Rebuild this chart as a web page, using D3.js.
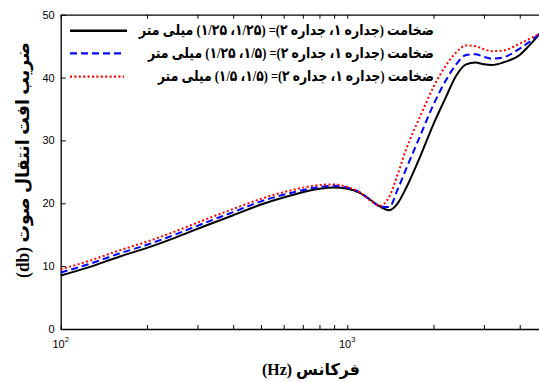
<!DOCTYPE html>
<html>
<head>
<meta charset="utf-8">
<script src="https://cdn.jsdelivr.net/npm/d3@7"></script>
<style>
  body { margin: 0; background: #fff; }
  svg { display: block; }
  .tick text { font-family: "Liberation Sans", Arial, sans-serif; font-size: 11px; }
  .fa { font-family: "Liberation Serif", "DejaVu Sans", serif; font-weight: bold; }
</style>
</head>
<body>
<svg width="539" height="382"></svg>
<script>
const freqs = [100, 125, 160, 200, 250, 315, 400, 500, 630, 800, 900, 1000, 1100, 1200, 1300,
  1400, 1500, 1600, 1800, 2000, 2200, 2400, 2600, 2800, 3000, 3200, 3500, 4000, 4300, 4700];

// wall thickness 1/25 , 1/25 mm (black solid)
const tl_25_25 = [8.5, 9.8, 11.5, 12.9, 14.5, 16.3, 18.1, 19.8, 21.2, 22.3, 22.5, 22.3, 21.7, 20.6, 19.5,
  18.9, 20.0, 22.3, 27.5, 32.6, 36.7, 40.3, 42.1, 42.4, 42.1, 42.0, 42.4, 43.6, 45.0, 47.0];
// 1/5 , 1/25 mm (blue dashed)
const tl_5_25 = [9.0, 10.3, 12.0, 13.4, 15.0, 16.8, 18.6, 20.3, 21.6, 22.6, 22.8, 22.5, 21.8, 20.6, 19.5,
  19.4, 22.2, 25.3, 30.8, 35.7, 39.4, 42.1, 43.6, 43.7, 43.3, 43.0, 43.2, 44.6, 45.6, 47.0];
// 1/5 , 1/5 mm (red dotted)
const tl_5_5 = [9.5, 10.8, 12.5, 13.9, 15.5, 17.3, 19.1, 20.7, 22.0, 22.9, 23.0, 22.6, 21.8, 20.5, 19.6,
  21.0, 24.6, 28.4, 33.9, 38.5, 41.8, 44.0, 45.1, 45.0, 44.5, 44.2, 44.3, 45.4, 46.1, 47.0];

const yTicks = [0, 10, 20, 30, 40, 50];
const xTicks = [100, 200, 300, 400, 500, 600, 700, 800, 900, 1000, 2000, 3000, 4000];
const xLabels = [{ v: 100, exp: "2" }, { v: 1000, exp: "3" }];

const legendLabels = [
  "ضخامت (جداره ۱، جداره ۲)= (۱/۲۵، ۱/۲۵) میلی متر",
  "ضخامت (جداره ۱، جداره ۲)= (۱/۵، ۱/۲۵) میلی متر",
  "ضخامت (جداره ۱، جداره ۲)= (۱/۵، ۱/۵) میلی متر"
];
const yLabel = "ضریب افت انتقال صوت (db)";
const xLabel = "فرکانس (Hz)";

const svg = d3.select("svg");
const plotLeft = 60.7, plotRight = 539.8, plotTop = 14.7, plotBottom = 329;

const x = d3.scaleLog().domain([100, 4700]).range([plotLeft, plotRight]);
const y = d3.scaleLinear().domain([0, 50]).range([plotBottom, plotTop]);

const series = [
  { values: tl_25_25, color: "#000", width: 2, dash: null },
  { values: tl_5_25, color: "#0000ff", width: 2, dash: "7,4" },
  { values: tl_5_5, color: "#ff0000", width: 2, dash: "2,2.4" }
];

// axes (ticks point inward)
svg.append("g")
  .attr("transform", `translate(0,${plotBottom})`)
  .call(d3.axisBottom(x).tickValues(xTicks).tickFormat("").tickSize(-4).tickSizeOuter(0));
svg.append("g")
  .attr("transform", `translate(0,${plotTop})`)
  .call(d3.axisTop(x).tickValues(xTicks).tickFormat("").tickSize(-4).tickSizeOuter(0));
svg.append("g")
  .attr("transform", `translate(${plotLeft},0)`)
  .call(d3.axisLeft(y).tickValues(yTicks).tickSize(-5).tickSizeOuter(0).tickPadding(6));
svg.selectAll(".domain").attr("stroke-width", 1.3);

// 10^n labels
xLabels.forEach(d => {
  const t = svg.append("text")
    .attr("x", x(d.v))
    .attr("y", 347.5)
    .attr("text-anchor", "middle")
    .style("font-family", "Liberation Sans, Arial, sans-serif")
    .style("font-size", "11px");
  t.append("tspan").text("10");
  t.append("tspan").attr("dy", -6).style("font-size", "7.5px").text(d.exp);
});

// curves
const line = d3.line()
  .x((d, i) => x(freqs[i]))
  .y(d => y(d))
  .curve(d3.curveMonotoneX);

series.forEach(s => {
  svg.append("path")
    .datum(s.values)
    .attr("fill", "none")
    .attr("stroke", s.color)
    .attr("stroke-width", s.width)
    .attr("stroke-dasharray", s.dash)
    .attr("d", line);
});

// persian text squeezed to a target width; right edge at xr, baseline at yb
function farsi(str, size, width, xr, yb, rotate) {
  const g = svg.append("g");
  const t = g.append("text")
    .attr("class", "fa")
    .style("direction", "rtl")
    .style("unicode-bidi", "embed")
    .attr("text-anchor", "middle")
    .style("font-size", size + "px")
    .text(str);
  const b = t.node().getBBox();
  const s = width / b.width;
  t.attr("x", -(b.x + b.width));
  if (rotate) g.attr("transform", `translate(${yb},${xr}) rotate(-90) scale(${s},1)`);
  else g.attr("transform", `translate(${xr},${yb}) scale(${s},1)`);
  return t;
}

// legend
const legendRows = [
  { y: 30.7, x2: 127, textWidth: 296, base: 35 },
  { y: 53.3, x2: 124, textWidth: 287, base: 58 },
  { y: 76.7, x2: 124, textWidth: 277, base: 81 }
];
legendRows.forEach((r, i) => {
  svg.append("line")
    .attr("x1", 70).attr("x2", r.x2)
    .attr("y1", r.y).attr("y2", r.y)
    .attr("stroke", series[i].color)
    .attr("stroke-width", i === 0 ? 2.6 : 2.2)
    .attr("stroke-dasharray", series[i].dash);
  farsi(legendLabels[i], 15, r.textWidth, 434, r.base);
});

// y-axis title (rotated: "right" edge is the top of the text)
farsi(yLabel, 18, 236, 42, 29, true);

// x-axis title
farsi(xLabel, 16, 98, 360, 375);
</script>
</body>
</html>
